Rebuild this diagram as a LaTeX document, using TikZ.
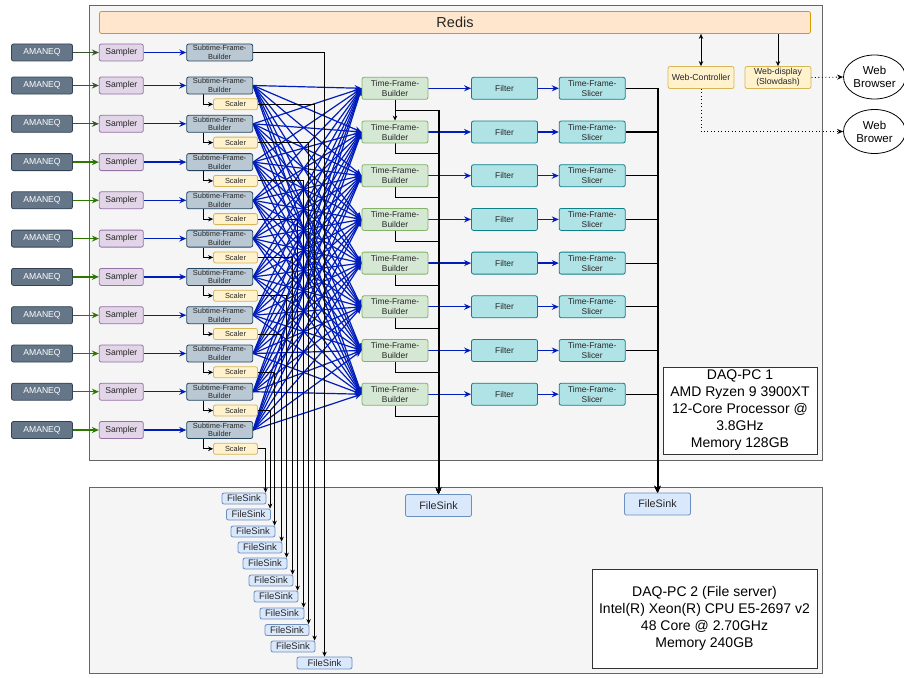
\documentclass[tikz,border=0pt]{standalone}
\usepackage{fontspec}
\setmainfont{Liberation Sans}
\usepackage{xcolor}
\usetikzlibrary{arrows.meta, shapes.geometric, backgrounds, calc}
\definecolor{PCFill}{RGB}{245, 245, 245}
\definecolor{PCBorder}{RGB}{102, 102, 102}
\definecolor{RedisFill}{RGB}{255, 230, 204}
\definecolor{RedisBorder}{RGB}{215, 155, 0}
\definecolor{AmaFill}{RGB}{100, 118, 135}
\definecolor{AmaBorder}{RGB}{49, 67, 84}
\definecolor{SmpFill}{RGB}{225, 213, 231}
\definecolor{SmpBorder}{RGB}{150, 115, 166}
\definecolor{SfbFill}{RGB}{186, 200, 211}
\definecolor{SfbBorder}{RGB}{35, 68, 93}
\definecolor{ScFill}{RGB}{255, 242, 204}
\definecolor{ScBorder}{RGB}{214, 182, 86}
\definecolor{TfbFill}{RGB}{213, 232, 212}
\definecolor{TfbBorder}{RGB}{130, 179, 102}
\definecolor{FltFill}{RGB}{176, 227, 230}
\definecolor{FltBorder}{RGB}{14, 128, 136}
\definecolor{SinkFill}{RGB}{218, 232, 252}
\definecolor{SinkBorder}{RGB}{108, 142, 191}
\definecolor{MeshBlue}{RGB}{0, 29, 188}
\definecolor{GreenA}{RGB}{58, 84, 49}
\definecolor{GreenB}{RGB}{45, 118, 0}

\begin{document}
\begin{tikzpicture}[x=1pt,y=-1pt,
  box/.style={rounded corners=2pt, inner sep=0pt, align=center, line width=0.8pt, text=black!85},
  amaneq/.style={box, fill=AmaFill, draw=AmaBorder, text=white, minimum width=61, minimum height=17, font=\fontsize{8.6}{10}\selectfont},
  sampler/.style={box, fill=SmpFill, draw=SmpBorder, minimum width=44, minimum height=17, font=\fontsize{8.6}{10}\selectfont},
  sfb/.style={box, fill=SfbFill, draw=SfbBorder, minimum width=66, minimum height=17, font=\fontsize{7.4}{8.6}\selectfont},
  scaler/.style={box, fill=ScFill, draw=ScBorder, minimum width=44, minimum height=11, font=\fontsize{7.4}{8}\selectfont},
  tfb/.style={box, fill=TfbFill, draw=TfbBorder, minimum width=66, minimum height=22, font=\fontsize{8.4}{10}\selectfont},
  filt/.style={box, fill=FltFill, draw=FltBorder, minimum width=66, minimum height=22, font=\fontsize{8.4}{10}\selectfont},
  sink/.style={box, fill=SinkFill, draw=SinkBorder, minimum width=44, minimum height=11, font=\fontsize{9.5}{10}\selectfont},
  bigsink/.style={sink, minimum width=66, minimum height=22, font=\fontsize{10.8}{12}\selectfont},
  web/.style={box, fill=ScFill, draw=ScBorder, minimum width=66, minimum height=22, font=\fontsize{8.7}{10}\selectfont},
  browser/.style={ellipse, draw, fill=white, line width=0.8pt, minimum width=62, minimum height=44, inner sep=0pt, align=center, font=\fontsize{11.5}{13}\selectfont},
  spec/.style={draw=black!80, fill=white, line width=0.9pt, inner sep=0pt, align=center, font=\fontsize{14}{17}\selectfont},
  pcbox/.style={fill=PCFill, draw=PCBorder, line width=1pt},
  feed/.style={line width=1.3pt, -{Stealth[length=7pt, width=6pt]}},
  mesh/.style={MeshBlue, line width=1.2pt, -{Stealth[length=7pt, width=6pt]}},
  wire/.style={black, line width=0.9pt, -{Stealth[length=5pt, width=4.5pt]}},
  bundle/.style={wire, line width=1.2pt, -{Stealth[length=6pt, width=5.5pt]}},
  trunk/.style={black, line width=2pt, -{Stealth[length=7pt, width=6.5pt]}},
  weblink/.style={black, line width=0.8pt, dash pattern=on 1pt off 2.5pt, -{Stealth[length=6pt, width=5pt]}}]
  \path[use as bounding box] (0,0) rectangle (904,677);

  % PC frames
  \begin{scope}[on background layer]
    \draw[pcbox] (89,6) rectangle (822,460);
    \draw[pcbox] (89,487) rectangle (822,673);
  \end{scope}

  \node[box, fill=RedisFill, draw=RedisBorder, minimum width=711, minimum height=22,
        font=\fontsize{14.5}{16}\selectfont] (redis) at (455,22.5) {Redis};

  % readout chain
  \foreach \k/\y/\gc in {1/52.5/GreenA, 2/85.5/GreenA, 3/123.8/GreenA, 4/162.1/GreenB,
      5/200.3/GreenB, 6/238.6/GreenB, 7/276.9/GreenB, 8/315.2/GreenB, 9/353.5/GreenB,
      10/391.7/GreenB, 11/430/GreenB} {
    \node[amaneq] (am\k) at (42,\y) {AMANEQ};
    \node[sampler] (smp\k) at (121.3,\y) {Sampler};
    \node[sfb] (sfb\k) at (219.7,\y) {Subtime-Frame-\\Builder};
    \begin{scope}[on background layer]
      \draw[feed, \gc] (am\k) -- (smp\k);
      \draw[feed, MeshBlue] (smp\k) -- (sfb\k);
    \end{scope}
  }
  \foreach \k in {2,...,11} {
    \node[scaler] (sc\k) at ($(sfb\k)+(15.8,18.8)$) {Scaler};
    \begin{scope}[on background layer]
      \draw[wire] ([xshift=-16.4]sfb\k.south) |- (sc\k.west);
    \end{scope}
  }

  % time frame stage
  \foreach \j/\y in {1/88.3, 2/132, 3/175.7, 4/219.4, 5/263.1, 6/306.8, 7/350.5, 8/394.2} {
    \node[tfb] (tfb\j) at (395,\y) {Time-Frame-\\Builder};
    \node[filt] (flt\j) at (504.5,\y) {Filter};
    \node[filt] (tfs\j) at (592.2,\y) {Time-Frame-\\Slicer};
    \begin{scope}[on background layer]
      \draw[feed, MeshBlue] (tfb\j) -- (flt\j);
      \draw[feed, MeshBlue] (flt\j) -- (tfs\j);
    \end{scope}
  }

  % web services
  \node[web] (webctl) at (701,77.5) {Web-Controller};
  \node[web] (webdsp) at (778,77.5) {Web-display\\(Slowdash)};
  \node[browser] (brw1) at (874.5,77) {Web\\Browser};
  \node[browser] (brw2) at (874.5,131.5) {Web\\Brower};

  % file sinks
  \foreach \i/\x/\y in {1/244/498.5, 2/248.5/514.5, 3/253/531.5, 4/260/547.5, 5/265/563.5,
      6/271/580.5, 7/276/596.5, 8/282/613.5, 9/287/630, 10/293/646.5}
    \node[sink] (fs\i) at (\x,\y) {FileSink};
  \node[sink, minimum width=55, minimum height=12] (fs11) at (324.5,663) {FileSink};
  \node[bigsink] (fsmid) at (438.5,505.5) {FileSink};
  \node[bigsink] (fsright) at (657.5,504) {FileSink};

  % machine specs
  \node[spec, minimum width=154, minimum height=87] (pc1spec) at (740,410.5)
    {DAQ-PC 1\\AMD Ryzen 9 3900XT\\12-Core Processor @\\3.8GHz\\Memory 128GB};
  \node[spec, minimum width=225, minimum height=99] (pc2spec) at (704.5,618.5)
    {DAQ-PC 2 (File server)\\Intel(R) Xeon(R) CPU E5-2697 v2\\48 Core @ 2.70GHz\\Memory 240GB};

  \begin{scope}[on background layer]
    % full mesh
    \foreach \k in {2,...,11}
      \foreach \j in {1,...,8}
        \draw[mesh] (sfb\k.east) -- (tfb\j.west);
    % scaler outputs
    \foreach \r/\i in {11/1, 10/2, 9/3, 8/4, 7/5, 6/6, 5/7, 4/8, 3/9, 2/10}
      \draw[wire] (sc\r.east) -| ([xshift=-0.8]fs\i.north east);
    \draw[wire] (sfb1.east) -| (fs11.north);
    % time frame outputs
    \draw[wire] (tfb1.south) -- (tfb2.north);
    \foreach \j in {1,...,8} {
      \draw[wire] (tfb\j.south) -- ++(0,10.5) -| (fsmid.north);
      \draw[bundle] (tfs\j.east) -| (fsright.north);
    }
    \draw[trunk] ([yshift=-10.5]fsmid.north |- tfb1.south) -- (fsmid.north);
    \draw[trunk] (fsright.north |- tfs1.east) -- (fsright.north);
    % redis and browsers
    \draw[wire, {Stealth[length=5pt, width=4.5pt]}-{Stealth[length=5pt, width=4.5pt]}]
      (redis.south -| webctl.north) -- (webctl.north);
    \draw[wire] (redis.south -| webdsp.north) -- (webdsp.north);
    \draw[weblink] (webdsp.east) -- (brw1.west);
    \draw[weblink] (webctl.south) |- (brw2.west);
  \end{scope}
\end{tikzpicture}
\end{document}
